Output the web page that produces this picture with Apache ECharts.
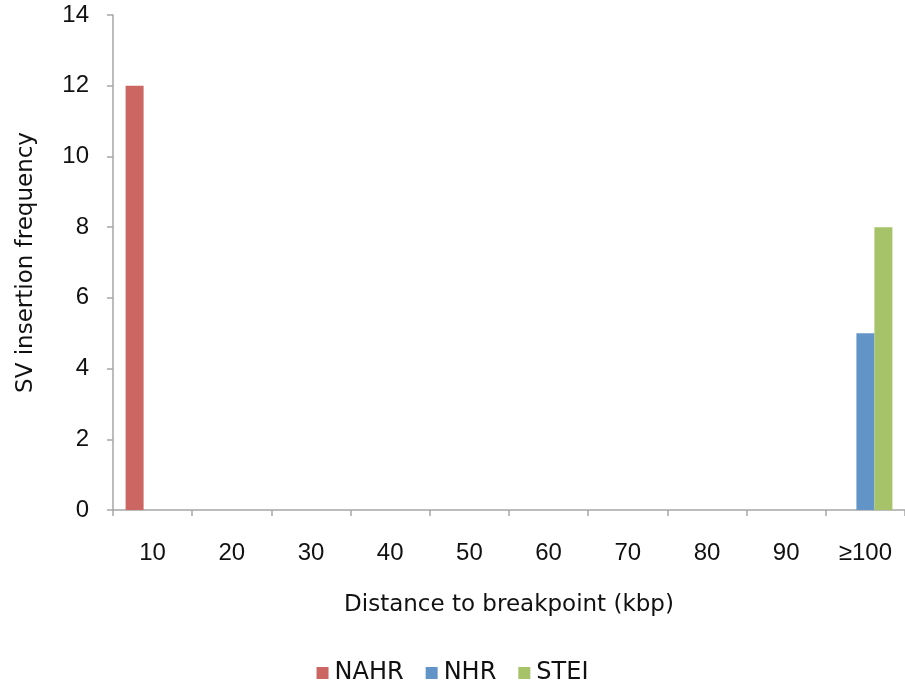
<!DOCTYPE html>
<html>
<head>
<meta charset="utf-8">
<script src="https://cdn.jsdelivr.net/npm/echarts@6/dist/echarts.min.js"></script>
<style>
  html, body { margin: 0; padding: 0; background: #fff; }
  #chart { width: 905px; height: 696px; }
</style>
</head>
<body>
<div id="chart"></div>
<script>
// 数据
const categories = ['10', '20', '30', '40', '50', '60', '70', '80', '90', '≥100'];
const nahr = [12, 0, 0, 0, 0, 0, 0, 0, 0, 0];
const nhr = [0, 0, 0, 0, 0, 0, 0, 0, 0, 5];
const stei = [0, 0, 0, 0, 0, 0, 0, 0, 0, 8];

const font = 'Liberation Sans, Arial, Helvetica, sans-serif';
const nameFont = 'DejaVu Sans, sans-serif';
const axisGrey = '#a6a6a6';

const myChart = echarts.init(document.getElementById('chart'));

const options = {
    animation: false,
    textStyle: { fontFamily: font },
    grid: {
        left: 113,
        right: 0,
        top: 15,
        bottom: 186
    },
    legend: {
        bottom: 6,
        left: 'center',
        itemWidth: 12,
        itemHeight: 12,
        itemGap: 22,
        icon: 'rect',
        textStyle: { fontSize: 24, color: '#111', fontFamily: nameFont, padding: [0, 0, 0, 1] },
        data: ['NAHR', 'NHR', 'STEI']
    },
    xAxis: {
        type: 'category',
        data: categories,
        name: 'Distance to breakpoint (kbp)',
        nameLocation: 'middle',
        nameGap: 84,
        nameTextStyle: { fontSize: 23, color: '#111', fontFamily: nameFont },
        axisLine: { lineStyle: { color: axisGrey, width: 1.5 } },
        axisTick: { show: true, alignWithLabel: false, length: 6, lineStyle: { color: axisGrey, width: 1.5 } },
        axisLabel: { fontSize: 24, color: '#111', margin: 31, interval: 0 }
    },
    yAxis: {
        type: 'value',
        min: 0,
        max: 14,
        interval: 2,
        name: 'SV insertion frequency',
        nameLocation: 'middle',
        nameGap: 75,
        nameTextStyle: { fontSize: 23, color: '#111', fontFamily: nameFont },
        splitLine: { show: false },
        axisLine: { show: true, lineStyle: { color: axisGrey, width: 1.5 } },
        axisTick: { show: true, length: 6, lineStyle: { color: axisGrey, width: 1.5 } },
        axisLabel: { fontSize: 24, color: '#111', margin: 24 }
    },
    series: [
        { name: 'NAHR', type: 'bar', data: nahr, barWidth: 18, barGap: '0%', itemStyle: { color: '#cc6662' } },
        { name: 'NHR', type: 'bar', data: nhr, barWidth: 18, barGap: '0%', itemStyle: { color: '#6394c8' } },
        { name: 'STEI', type: 'bar', data: stei, barWidth: 18, barGap: '0%', itemStyle: { color: '#a6c36a' } }
    ]
};

myChart.setOption(options);
</script>
</body>
</html>
